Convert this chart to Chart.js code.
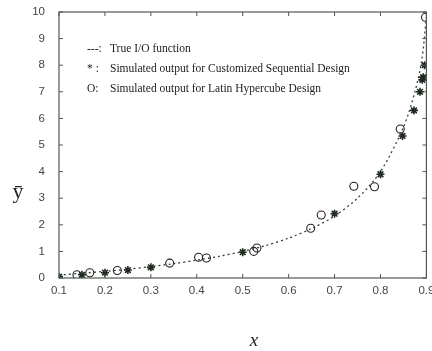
<!DOCTYPE html>
<html>
<head>
<meta charset="utf-8">
<script src="https://cdn.jsdelivr.net/npm/chart.js@4/dist/chart.umd.min.js"></script>
<style>
  html, body { margin: 0; padding: 0; background: #fff; overflow: hidden; }
  #wrap { width: 432px; height: 351px; }
</style>
</head>
<body>
<div id="wrap"><canvas id="chart" width="432" height="351"></canvas></div>
<script>
// true I/O function
const trueX = [0.1, 0.15, 0.2, 0.25, 0.3, 0.35, 0.4, 0.45, 0.5, 0.55, 0.6, 0.65, 0.7, 0.75, 0.8, 0.85, 0.875, 0.89, 0.9];
const trueY = [0.11, 0.18, 0.25, 0.33, 0.43, 0.54, 0.67, 0.82, 1.0, 1.22, 1.5, 1.86, 2.33, 3.0, 4.0, 5.67, 7.0, 8.2, 9.8];

// customized sequential design (*)
const seqX = [0.1, 0.15, 0.2, 0.25, 0.3, 0.5, 0.7, 0.8, 0.848, 0.873, 0.886, 0.891, 0.893, 0.896];
const seqY = [0.05, 0.12, 0.2, 0.3, 0.4, 0.97, 2.42, 3.9, 5.34, 6.3, 7.0, 7.45, 7.55, 8.0];

// latin hypercube design (O)
const lhX = [0.139, 0.167, 0.227, 0.341, 0.404, 0.421, 0.524, 0.531, 0.648, 0.671, 0.742, 0.787, 0.843, 0.898];
const lhY = [0.12, 0.2, 0.28, 0.56, 0.78, 0.75, 1.0, 1.13, 1.87, 2.37, 3.45, 3.43, 5.6, 9.8];

const xTicks = [0.1, 0.2, 0.3, 0.4, 0.5, 0.6, 0.7, 0.8, 0.9];
const yTicks = [0, 1, 2, 3, 4, 5, 6, 7, 8, 9, 10];

const legendLines = [
    ['---:', 'True I/O function'],
    ['* :', 'Simulated output for Customized Sequential Design'],
    ['O:', 'Simulated output for Latin Hypercube Design']
];

const pts = (xs, ys) => xs.map((x, i) => ({ x: x, y: ys[i] }));

const axisColor = '#4d5a4d';

// box around the plot, inward ticks on all four sides, annotations
const framePlugin = {
    id: 'frame',
    afterDraw(chart) {
        const ctx = chart.ctx;
        const a = chart.chartArea;
        const xs = chart.scales.x, ys = chart.scales.y;
        ctx.save();
        ctx.strokeStyle = axisColor;
        ctx.lineWidth = 1.2;
        ctx.strokeRect(a.left, a.top, a.right - a.left, a.bottom - a.top);
        ctx.lineWidth = 1;
        ctx.beginPath();
        xTicks.forEach(v => {
            const px = xs.getPixelForValue(v);
            ctx.moveTo(px, a.bottom); ctx.lineTo(px, a.bottom - 4);
            ctx.moveTo(px, a.top); ctx.lineTo(px, a.top + 4);
        });
        yTicks.forEach(v => {
            const py = ys.getPixelForValue(v);
            ctx.moveTo(a.left, py); ctx.lineTo(a.left + 4, py);
            ctx.moveTo(a.right, py); ctx.lineTo(a.right - 4, py);
        });
        ctx.stroke();

        // annotation text
        ctx.fillStyle = '#222';
        ctx.font = '11.5px "Liberation Serif"';
        ctx.textBaseline = 'middle';
        legendLines.forEach((l, i) => {
            const y = 49 + i * 20;
            ctx.textAlign = 'left';
            ctx.fillText(l[0], 87, y);
            ctx.fillText(l[1], 110, y);
        });

        // axis titles
        ctx.textAlign = 'center';
        ctx.font = '22px "Liberation Serif"';
        ctx.fillText('ȳ', 18, 192);
        ctx.font = 'italic 19px "Liberation Serif"';
        ctx.fillText('x', 254, 341);
        ctx.restore();
    }
};

new Chart(document.getElementById('chart'), {
    type: 'scatter',
    data: {
        datasets: [
            {
                type: 'line',
                label: 'True I/O function',
                data: pts(trueX, trueY),
                borderColor: '#3a3a3a',
                borderWidth: 1.3,
                borderDash: [2, 3],
                pointRadius: 0,
                tension: 0.3,
                fill: false
            },
            {
                label: 'Customized Sequential Design',
                data: pts(seqX, seqY),
                pointStyle: 'star',
                pointRadius: 4,
                borderColor: '#1e2a1e',
                backgroundColor: '#1e2a1e',
                borderWidth: 1.6
            },
            {
                label: 'Latin Hypercube Design',
                data: pts(lhX, lhY),
                pointStyle: 'circle',
                pointRadius: 4,
                borderColor: '#222',
                backgroundColor: 'rgba(0,0,0,0)',
                borderWidth: 1.1
            }
        ]
    },
    options: {
        responsive: false,
        animation: false,
        layout: { padding: { left: 0, right: 2, top: 12, bottom: 0 } },
        plugins: { legend: { display: false }, tooltip: { enabled: false } },
        scales: {
            x: {
                type: 'linear',
                min: 0.1,
                max: 0.9,
                grid: { display: false },
                border: { display: false },
                afterBuildTicks: s => { s.ticks = xTicks.map(v => ({ value: v })); },
                afterFit: s => { s.paddingRight = 0; s.paddingLeft = 0; s.height = 73; },
                ticks: {
                    color: '#444',
                    font: { family: 'Liberation Sans', size: 11.5 },
                    padding: -2,
                    maxRotation: 0,
                    callback: v => v.toFixed(1)
                }
            },
            y: {
                min: 0,
                max: 10,
                grid: { display: false },
                border: { display: false },
                afterBuildTicks: s => { s.ticks = yTicks.map(v => ({ value: v })); },
                afterFit: s => { s.width = 59; s.paddingTop = 0; s.paddingBottom = 0; },
                ticks: {
                    color: '#444',
                    font: { family: 'Liberation Sans', size: 11.5 },
                    padding: 6
                }
            }
        }
    },
    plugins: [framePlugin]
});
</script>
</body>
</html>
